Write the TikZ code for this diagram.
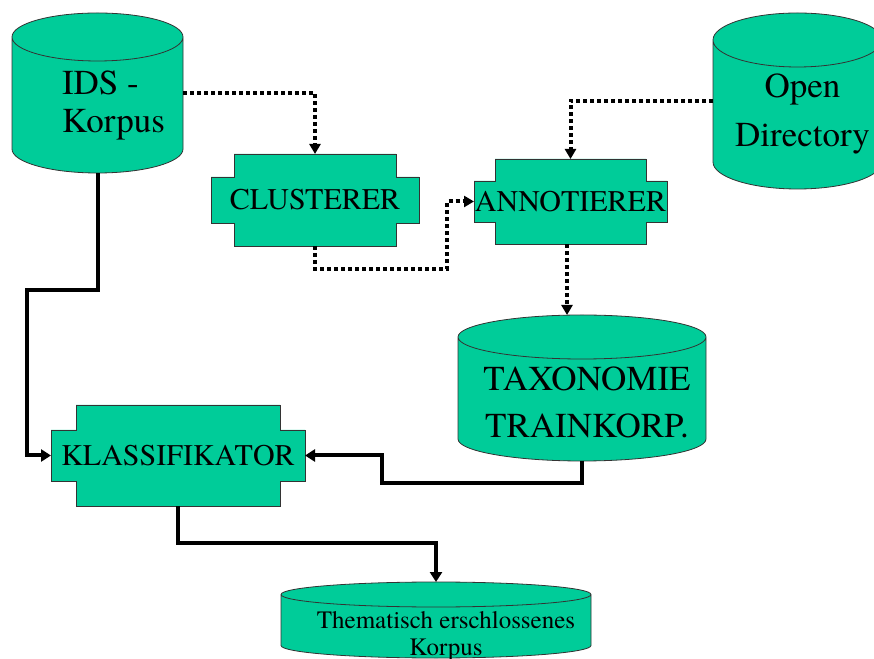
\documentclass[tikz,border=0pt]{standalone}
\usepackage{fontspec}
\newfontfamily\dbfont{texgyretermes-regular.otf}
\usetikzlibrary{arrows.meta,backgrounds,calc}
\definecolor{dbgreen}{RGB}{0,204,153}

\begin{document}
\begin{tikzpicture}[x=1pt, y=1pt]
        \tikzstyle{every node}=[inner sep=0pt, outer sep=0pt]
        \tikzstyle{store}=[rectangle]
        \tikzstyle{proc}=[rectangle, font=\dbfont\fontsize{30}{36}\selectfont]
        \tikzstyle{body}=[fill=dbgreen, draw=black!80, line width=0.8pt]
        \tikzstyle{dotflow}=[line width=4pt, dash pattern=on 4pt off 3pt, -{Triangle[length=10pt,width=11pt]}]
        \tikzstyle{flow}=[line width=4pt, -{Triangle[length=10pt,width=12pt]}]

        \useasboundingbox (0,0) rectangle (874,658);
        \clip (0,0) rectangle (874,658);

% This figure shows how the corpus is clustered, annotated and classified.

        \node[store, minimum width=171pt, minimum height=160pt] (ids) at (97.5,565) {};
        \node[store, minimum width=169pt, minimum height=176pt] (odp) at (797.5,557) {};
        \node[store, minimum width=248pt, minimum height=146pt] (tax) at (582,270) {};
        \node[store, minimum width=310pt, minimum height=76pt] (the) at (436,38) {};

        \node[proc, minimum width=208pt, minimum height=92pt] (clu) at (315,458) {CLUSTERER};
        \node[proc, minimum width=193pt, minimum height=85pt] (ann) at (570.5,456.5) {ANNOTIERER};
        \node[proc, minimum width=254pt, minimum height=101pt] (kla) at (178,202.5) {KLASSIFIKATOR};

        \node[anchor=base west, align=left, font=\dbfont\fontsize{35}{38}\selectfont] (idsText) at (62,525) {IDS -\\Korpus};
        \node[anchor=base, align=center, font=\dbfont\fontsize{35}{49}\selectfont] (odpText) at (802.5,511) {Open\\Directory};
        \node[anchor=base, align=center, font=\dbfont\fontsize{35}{47}\selectfont] (taxText) at (587,220) {TAXONOMIE\\TRAINKORP.};
        \node[anchor=base, align=center, font=\dbfont\fontsize{25}{27}\selectfont] (theText) at (446,3) {Thematisch erschlossenes\\Korpus};

        \begin{scope}[on background layer]
        % cylinders
        \foreach \c/\r in {ids/24, odp/27, tax/22, the/12.5}
          \draw[body] let \p1=(\c.north west), \p2=(\c.south east), \n1={(\x2-\x1)/2} in
            (\x1,\y1-\r pt) -- (\x1,\y2+\r pt) arc[start angle=180, end angle=360, x radius=\n1, y radius=\r pt]
            -- (\x2,\y1-\r pt) arc[start angle=0, end angle=180, x radius=\n1, y radius=\r pt] -- cycle
            (\x1,\y1-\r pt) arc[start angle=180, end angle=360, x radius=\n1, y radius=\r pt];
        % notched boxes
        \foreach \b/\dx/\dy in {clu/23/23, ann/21/22, kla/25/25}
          \draw[body] ([xshift=\dx pt]\b.north west) -- ([xshift=-\dx pt]\b.north east)
            -- ([xshift=-\dx pt, yshift=-\dy pt]\b.north east) -- ([yshift=-\dy pt]\b.north east)
            -- ([yshift=\dy pt]\b.south east) -- ([xshift=-\dx pt, yshift=\dy pt]\b.south east)
            -- ([xshift=-\dx pt]\b.south east) -- ([xshift=\dx pt]\b.south west)
            -- ([xshift=\dx pt, yshift=\dy pt]\b.south west) -- ([yshift=\dy pt]\b.south west)
            -- ([yshift=-\dy pt]\b.north west) -- ([xshift=\dx pt, yshift=-\dy pt]\b.north west) -- cycle;
        \end{scope}

        \draw[dotflow] (ids.east) -| (clu.north);
        \draw[dotflow] (odp.west) -| (ann.north);
        \draw[dotflow] (clu.south) -- ++(0,-23) -| ([xshift=-27pt]ann.west) -- (ann.west);
        \draw[dotflow] ([xshift=-3.5pt]ann.south) -- ([xshift=-3.5pt]ann.south |- tax.north);

        \draw[flow] (ids.south) -- ++(0,-117) -| ([xshift=-24pt]kla.west) -- (kla.west);
        \draw[flow] (tax.south) -- ++(0,-22) -| ([xshift=77pt]kla.east) -- (kla.east);
        \draw[flow] (kla.south) -- ++(0,-37) -| (the.north);

    \end{tikzpicture}
\end{document}
